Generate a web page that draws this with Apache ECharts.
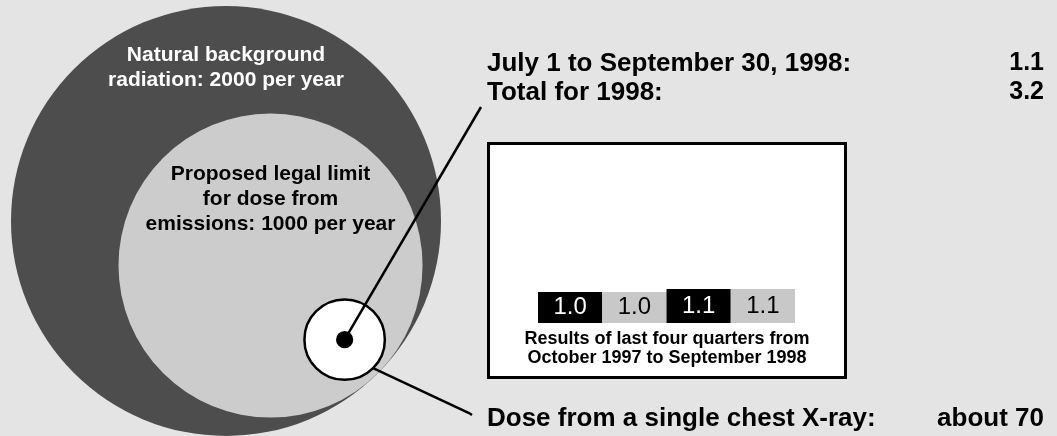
<!DOCTYPE html>
<html>
<head>
<meta charset="utf-8">
<script src="https://cdn.jsdelivr.net/npm/echarts@6/dist/echarts.min.js"></script>
<style>
  html, body { margin: 0; padding: 0; background: #e4e4e4; }
  #chart { width: 1057px; height: 436px; }
</style>
</head>
<body>
<div id="chart"></div>
<script>
// doses (same unit), largest first
const doseNames = ['Natural background radiation', 'Proposed legal limit', 'Single chest X-ray', 'Total for 1998'];
const doseValues = [2000, 1000, 70, 3.2];
const doseColors = ['#4d4d4d', '#cccccc', '#ffffff', '#000000'];

// last four quarters
const quarterNames = ['Oct-Dec 1997', 'Jan-Mar 1998', 'Apr-Jun 1998', 'Jul-Sep 1998'];
const quarterValues = [1.0, 1.0, 1.1, 1.1];
const quarterColors = ['#000000', '#c8c8c8', '#000000', '#c8c8c8'];

const periodLabels = ['July 1 to September 30, 1998:', 'Total for 1998:'];
const periodValues = [1.1, 3.2];

const W = 1057, H = 436;
const FONT = '"Liberation Sans", Arial, Helvetica, sans-serif';

// circle areas are proportional to dose
const R = 215;
const radius = v => R * Math.sqrt(v / doseValues[0]);
const r = doseValues.map(radius);
const diag = Math.SQRT1_2;
const c0 = [226, 221];
const c1 = [c0[0] + (r[0] - r[1]) * diag, c0[1] + (r[0] - r[1]) * diag];
const c2 = [c1[0] + (r[1] - r[2] - 7) * diag, c1[1] + (r[1] - r[2] - 7) * diag];
const centers = [c0, c1, c2, c2];

const circleData = doseValues.map((v, i) => ({
  name: doseNames[i],
  value: [centers[i][0], centers[i][1], v],
  itemStyle: {
    color: doseColors[i],
    opacity: 1,
    borderColor: i === 2 ? '#000' : doseColors[i],
    borderWidth: i === 2 ? 2.5 : 0
  }
}));

const box = { x1: 487, y1: 142, x2: 847, y2: 379 };
const edge = [c2[0] + r[2] * diag, c2[1] + r[2] * diag];

const chart = echarts.init(document.getElementById('chart'));

const option = {
  backgroundColor: '#e4e4e4',
  animation: false,
  grid: [
    { left: 0, top: 0, width: W, height: H },
    { left: 538, top: 261, width: 257, height: 62 }
  ],
  xAxis: [
    { gridIndex: 0, type: 'value', min: 0, max: W, show: false },
    { gridIndex: 1, type: 'category', data: quarterNames, show: false }
  ],
  yAxis: [
    { gridIndex: 0, type: 'value', min: 0, max: H, inverse: true, show: false },
    { gridIndex: 1, type: 'value', min: 0, max: 2, show: false }
  ],
  series: [
    {
      type: 'scatter',
      xAxisIndex: 0,
      yAxisIndex: 0,
      silent: true,
      symbol: 'circle',
      symbolSize: d => 2 * radius(d[2]),
      itemStyle: { opacity: 1 },
      data: circleData,
      z: 2
    },
    {
      type: 'bar',
      xAxisIndex: 1,
      yAxisIndex: 1,
      silent: true,
      barCategoryGap: '0%',
      data: quarterValues.map((v, i) => ({
        value: v,
        itemStyle: { color: quarterColors[i] },
        label: { color: quarterColors[i] === '#000000' ? '#fff' : '#000' }
      })),
      label: {
        show: true,
        position: 'inside',
        fontFamily: FONT,
        fontSize: 24,
        fontWeight: 'normal',
        textBorderWidth: 0,
        formatter: p => p.value.toFixed(1)
      },
      z: 3
    }
  ],
  graphic: [
    {
      type: 'rect',
      z: 1,
      shape: { x: box.x1 + 1.5, y: box.y1 + 1.5, width: box.x2 - box.x1 - 3, height: box.y2 - box.y1 - 3 },
      style: { fill: '#fff', stroke: '#000', lineWidth: 3 }
    },
    {
      type: 'line',
      z: 10,
      shape: { x1: c2[0], y1: c2[1], x2: 481, y2: 107 },
      style: { stroke: '#000', lineWidth: 2.5 }
    },
    {
      type: 'polyline',
      z: 10,
      shape: { points: [edge, [469, 413], [472, 415]] },
      style: { stroke: '#000', lineWidth: 2.5, fill: null }
    },
    {
      type: 'text', z: 10, x: c0[0], y: 67.5,
      style: {
        text: 'Natural background\nradiation: ' + doseValues[0] + ' per year',
        fill: '#fff', font: 'bold 21px ' + FONT, lineHeight: 25,
        align: 'center', verticalAlign: 'middle', textAlign: 'center', textVerticalAlign: 'middle'
      }
    },
    {
      type: 'text', z: 10, x: c1[0], y: 199,
      style: {
        text: 'Proposed legal limit\nfor dose from\nemissions: ' + doseValues[1] + ' per year',
        fill: '#000', font: 'bold 21px ' + FONT, lineHeight: 25,
        align: 'center', verticalAlign: 'middle', textAlign: 'center', textVerticalAlign: 'middle'
      }
    },
    ...periodLabels.map((t, i) => ({
      type: 'text', z: 10, x: 487, y: 63.5 + i * 29,
      style: {
        text: t, fill: '#000', font: 'bold 26px ' + FONT,
        align: 'left', verticalAlign: 'middle', textAlign: 'left', textVerticalAlign: 'middle'
      }
    })),
    ...periodValues.map((v, i) => ({
      type: 'text', z: 10, x: 1044, y: 63.5 + i * 29,
      style: {
        text: v.toFixed(1), fill: '#000', font: 'bold 25px ' + FONT,
        align: 'right', verticalAlign: 'middle', textAlign: 'right', textVerticalAlign: 'middle'
      }
    })),
    {
      type: 'text', z: 10, x: (box.x1 + box.x2) / 2, y: 349,
      style: {
        text: 'Results of last four quarters from\nOctober 1997 to September 1998',
        fill: '#000', font: 'bold 18px ' + FONT, lineHeight: 19,
        align: 'center', verticalAlign: 'middle', textAlign: 'center', textVerticalAlign: 'middle'
      }
    },
    {
      type: 'text', z: 10, x: 487, y: 419,
      style: {
        text: 'Dose from a single chest X-ray:', fill: '#000', font: 'bold 26px ' + FONT,
        align: 'left', verticalAlign: 'middle', textAlign: 'left', textVerticalAlign: 'middle'
      }
    },
    {
      type: 'text', z: 10, x: 1044, y: 419,
      style: {
        text: 'about ' + doseValues[2], fill: '#000', font: 'bold 26px ' + FONT,
        align: 'right', verticalAlign: 'middle', textAlign: 'right', textVerticalAlign: 'middle'
      }
    }
  ]
};

chart.setOption(option);
</script>
</body>
</html>
